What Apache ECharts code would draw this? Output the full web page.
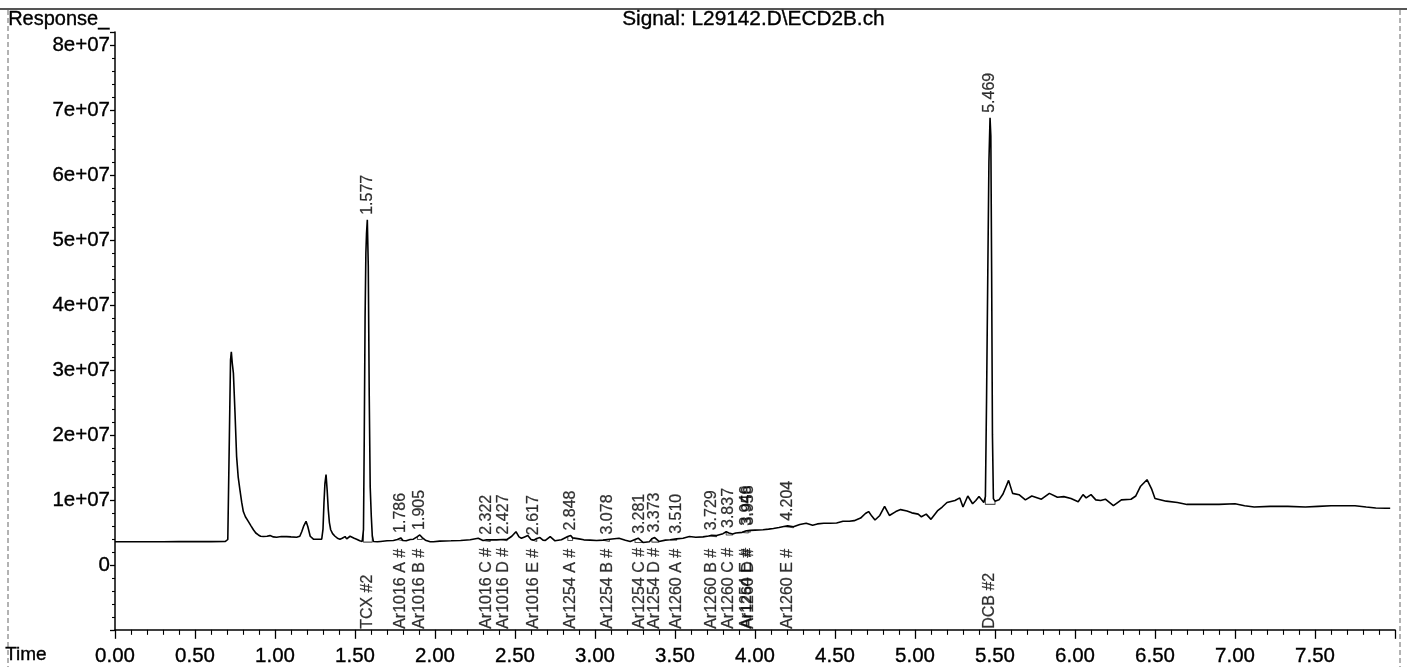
<!DOCTYPE html>
<html>
<head>
<meta charset="utf-8">
<script src="https://cdn.jsdelivr.net/npm/echarts@6/dist/echarts.min.js"></script>
<style>
  html, body { margin: 0; padding: 0; background: #fff; }
  #chart { width: 1407px; height: 667px; }
</style>
</head>
<body>
<div id="chart"></div>
<script>
// ECD detector trace: retention time (min) and response (counts)
const traceTime = [
  0.00, 0.10, 0.20, 0.30, 0.40, 0.50, 0.60, 0.69, 0.705, 0.715, 0.722, 0.727, 0.733, 0.74, 0.75, 0.76, 0.77, 0.781, 0.792, 0.802,
  0.815, 0.833, 0.85, 0.865, 0.88, 0.896, 0.91, 0.927, 0.95, 0.969, 0.99, 1.01, 1.04, 1.073, 1.10, 1.135, 1.155, 1.167, 1.18, 1.194,
  1.205, 1.22, 1.24, 1.27, 1.292, 1.30, 1.306, 1.312, 1.319, 1.326, 1.333, 1.34, 1.348, 1.36, 1.375, 1.39, 1.406, 1.42, 1.438, 1.448,
  1.458, 1.469, 1.479, 1.495, 1.51, 1.53, 1.545, 1.553, 1.558, 1.563, 1.568, 1.572, 1.577, 1.583, 1.589, 1.595, 1.602, 1.608, 1.615, 1.64,
  1.66, 1.70, 1.74, 1.765, 1.786, 1.80, 1.82, 1.845, 1.865, 1.89, 1.905, 1.92, 1.94, 1.97, 1.99, 2.03, 2.10, 2.16, 2.22, 2.27,
  2.30, 2.322, 2.345, 2.385, 2.427, 2.45, 2.48, 2.506, 2.525, 2.54, 2.56, 2.58, 2.60, 2.617, 2.636, 2.656, 2.675, 2.69, 2.72, 2.75,
  2.79, 2.83, 2.848, 2.86, 2.90, 2.93, 2.97, 3.01, 3.05, 3.078, 3.09, 3.15, 3.19, 3.22, 3.25, 3.27, 3.281, 3.30, 3.34, 3.355,
  3.373, 3.40, 3.44, 3.47, 3.51, 3.55, 3.59, 3.63, 3.675, 3.71, 3.729, 3.76, 3.80, 3.82, 3.837, 3.86, 3.88, 3.92, 3.946, 3.958,
  3.97, 4.00, 4.05, 4.085, 4.115, 4.15, 4.18, 4.204, 4.24, 4.28, 4.32, 4.36, 4.39, 4.43, 4.47, 4.51, 4.55, 4.59, 4.62, 4.66,
  4.69, 4.71, 4.73, 4.75, 4.78, 4.81, 4.84, 4.88, 4.91, 4.95, 4.98, 5.02, 5.04, 5.07, 5.10, 5.14, 5.17, 5.20, 5.25, 5.28,
  5.30, 5.33, 5.36, 5.38, 5.40, 5.43, 5.44, 5.447, 5.455, 5.462, 5.469, 5.474, 5.479, 5.484, 5.49, 5.50, 5.525, 5.55, 5.56, 5.585,
  5.61, 5.65, 5.69, 5.73, 5.79, 5.84, 5.89, 5.93, 5.975, 6.02, 6.05, 6.07, 6.10, 6.13, 6.16, 6.19, 6.24, 6.29, 6.35, 6.38,
  6.41, 6.45, 6.48, 6.50, 6.57, 6.64, 6.70, 6.79, 6.90, 7.00, 7.06, 7.12, 7.22, 7.33, 7.44, 7.52, 7.60, 7.68, 7.75, 7.82,
  7.88, 7.94, 7.97
];
const traceResp = [
  3.55e6, 3.55e6, 3.56e6, 3.56e6, 3.57e6, 3.58e6, 3.58e6, 3.60e6, 3.90e6, 2.00e7, 3.15e7, 3.28e7, 3.10e7, 2.95e7, 2.34e7, 1.67e7, 1.35e7, 1.15e7, 9.6e6, 8.2e6,
  7.4e6, 6.7e6, 6.0e6, 5.4e6, 4.9e6, 4.6e6, 4.4e6, 4.35e6, 4.4e6, 4.5e6, 4.3e6, 4.25e6, 4.35e6, 4.35e6, 4.3e6, 4.25e6, 4.4e6, 5.1e6, 6.0e6, 6.7e6,
  5.9e6, 4.4e6, 3.95e6, 3.95e6, 3.95e6, 5.5e6, 9.5e6, 1.25e7, 1.39e7, 1.15e7, 8.5e6, 6.5e6, 5.4e6, 4.8e6, 4.4e6, 4.1e6, 3.95e6, 4.1e6, 4.35e6, 4.0e6,
  4.2e6, 4.4e6, 4.5e6, 4.1e6, 3.95e6, 3.7e6, 3.6e6, 5.4e6, 2.0e7, 3.8e7, 4.8e7, 5.1e7, 5.31e7, 4.6e7, 2.6e7, 1.2e7, 7.4e6, 4.5e6, 3.6e6, 3.55e6,
  3.6e6, 3.7e6, 3.75e6, 3.9e6, 4.15e6, 3.75e6, 3.7e6, 3.9e6, 3.95e6, 4.35e6, 4.6e6, 4.2e6, 3.8e6, 3.55e6, 3.55e6, 3.65e6, 3.7e6, 3.75e6, 3.85e6, 4.1e6,
  3.75e6, 3.85e6, 3.85e6, 3.85e6, 3.9e6, 3.9e6, 4.4e6, 5.1e6, 4.3e6, 4.1e6, 4.3e6, 4.5e6, 3.9e6, 3.8e6, 4.05e6, 4.2e6, 3.8e6, 3.75e6, 4.35e6, 3.7e6,
  3.85e6, 4.35e6, 4.5e6, 4.15e6, 4.0e6, 3.85e6, 3.8e6, 3.75e6, 3.8e6, 3.9e6, 3.85e6, 4.1e6, 3.8e6, 3.6e6, 3.9e6, 4.1e6, 4.0e6, 3.45e6, 3.55e6, 4.0e6,
  4.2e6, 3.6e6, 3.8e6, 3.85e6, 4.0e6, 4.1e6, 4.35e6, 4.25e6, 4.3e6, 4.45e6, 4.55e6, 4.5e6, 4.8e6, 5.1e6, 4.9e6, 4.75e6, 4.9e6, 5.0e6, 5.25e6, 5.3e6,
  5.3e6, 5.35e6, 5.4e6, 5.5e6, 5.6e6, 5.75e6, 5.9e6, 6.0e6, 5.85e6, 6.2e6, 6.4e6, 6.1e6, 6.3e6, 6.4e6, 6.4e6, 6.45e6, 6.7e6, 6.7e6, 6.8e6, 7.2e6,
  7.9e6, 8.2e6, 7.5e6, 6.9e6, 7.6e6, 9.0e6, 7.6e6, 8.2e6, 8.5e6, 8.3e6, 8.0e6, 7.8e6, 7.4e6, 7.8e6, 7.0e6, 8.3e6, 8.9e6, 9.6e6, 9.9e6, 1.03e7,
  8.9e6, 1.06e7, 9.4e6, 9.9e6, 1.05e7, 9.6e6, 1.05e7, 2.5e7, 4.5e7, 6.2e7, 6.88e7, 6.6e7, 4.5e7, 2.0e7, 1.02e7, 9.8e6, 1.0e7, 1.09e7, 1.10e7, 1.30e7,
  1.10e7, 1.08e7, 1.0e7, 1.06e7, 1.01e7, 1.10e7, 1.04e7, 1.05e7, 1.02e7, 9.7e6, 1.08e7, 1.03e7, 1.08e7, 1.0e7, 9.9e6, 1.01e7, 9.1e6, 1.0e7, 1.01e7, 1.06e7,
  1.21e7, 1.31e7, 1.16e7, 1.02e7, 9.8e6, 9.6e6, 9.3e6, 9.3e6, 9.3e6, 9.4e6, 9.1e6, 8.9e6, 9.0e6, 9.0e6, 8.9e6, 9.0e6, 9.1e6, 9.1e6, 9.1e6, 8.9e6,
  8.75e6, 8.7e6, 8.7e6
];

// Identified peaks: retention time and compound label
const peakTimes = [1.577, 1.786, 1.905, 2.322, 2.427, 2.617, 2.848, 3.078, 3.281, 3.373, 3.510, 3.729, 3.837, 3.946, 3.958, 4.204, 5.469];
const peakNames = ['TCX #2', 'Ar1016 A #', 'Ar1016 B #', 'Ar1016 C #', 'Ar1016 D #', 'Ar1016 E #', 'Ar1254 A #', 'Ar1254 B #',
  'Ar1254 C #', 'Ar1254 D #', 'Ar1260 A #', 'Ar1260 B #', 'Ar1260 C #', 'Ar1254 E #', 'Ar1260 D #', 'Ar1260 E #', 'DCB #2'];

// Integration windows (start / end time) and baseline level under each peak
const intStart = [1.553, 1.765, 1.89, 2.30, 2.41, 2.60, 2.83, 3.05, 3.25, 3.355, 3.47, 3.71, 3.82, 3.92, 3.946, 4.18, 5.44];
const intEnd   = [1.608, 1.80, 1.92, 2.345, 2.45, 2.636, 2.86, 3.09, 3.30, 3.40, 3.51, 3.76, 3.86, 3.958, 3.97, 4.24, 5.50];
const intBase  = [3.5e6, 3.7e6, 3.9e6, 3.6e6, 3.7e6, 3.6e6, 3.75e6, 3.6e6, 3.45e6, 3.5e6, 3.8e6, 4.35e6, 4.6e6, 4.9e6, 5.0e6, 5.7e6, 9.3e6];

const Y_MIN = -1e7, Y_MAX = 8.2e7;
const FONT = '"Liberation Sans", Arial, Helvetica, sans-serif';

const trace = traceTime.map((t, i) => [t, traceResp[i]]);
const nearest = t => {
  let best = 0;
  traceTime.forEach((tt, i) => { if (Math.abs(tt - t) < Math.abs(traceTime[best] - t)) best = i; });
  return traceResp[best];
};
const apexPoints = peakTimes.map(t => [t, nearest(t)]);
const namePoints = peakTimes.map(t => [t, Y_MIN]);

// Integration marks: drop line, baseline, drop line; null breaks between peaks
const intMarks = [];
intStart.forEach((ts, i) => {
  const te = intEnd[i];
  intMarks.push([ts, nearest(ts)], [ts, intBase[i]], [te, intBase[i]], [te, nearest(te)], [null, null]);
});

// slightly heavier text, like a printed report
const ink = { color: '#000', textBorderColor: '#000', textBorderWidth: 0.35 };

const chart = echarts.init(document.getElementById('chart'), null, { renderer: 'canvas' });

chart.setOption({
  animation: false,
  backgroundColor: '#ffffff',
  textStyle: { fontFamily: FONT },
  grid: { left: 115, right: 12, top: 32, bottom: 37, containLabel: false },
  xAxis: {
    type: 'value',
    min: 0, max: 8, interval: 0.5,
    axisLine: { onZero: false, lineStyle: { color: '#000', width: 1.5 } },
    axisTick: { length: 9, lineStyle: { color: '#000', width: 1.3 } },
    minorTick: { show: true, splitNumber: 5, length: 5, lineStyle: { color: '#000', width: 1.1 } },
    splitLine: { show: false },
    axisLabel: Object.assign({
      fontSize: 20.5, margin: 16, fontFamily: FONT,
      formatter: v => (v >= 8 ? '' : v.toFixed(2))
    }, ink)
  },
  yAxis: {
    type: 'value',
    min: Y_MIN, max: Y_MAX, interval: 1e7,
    axisLine: { show: true, onZero: false, lineStyle: { color: '#000', width: 1.5 } },
    axisTick: { show: true, length: 5, lineStyle: { color: '#000', width: 1.3 } },
    minorTick: { show: true, splitNumber: 5, length: 3, lineStyle: { color: '#000', width: 1.1 } },
    splitLine: { show: false },
    axisLabel: Object.assign({
      fontSize: 20.5, margin: 5, fontFamily: FONT,
      formatter: v => (v < 0 ? '' : v === 0 ? '0' : (v / 1e7) + 'e+07')
    }, ink)
  },
  graphic: [
    { type: 'line', shape: { x1: 0, y1: 9, x2: 1407, y2: 9 }, style: { stroke: '#555', lineWidth: 2 } },
    { type: 'line', shape: { x1: 8, y1: 10, x2: 8, y2: 667 }, style: { stroke: '#666', lineWidth: 1, lineDash: [5, 3] } },
    { type: 'line', shape: { x1: 1400, y1: 10, x2: 1400, y2: 667 }, style: { stroke: '#666', lineWidth: 1, lineDash: [5, 3] } },
    { type: 'text', left: 8, top: 9, style: { text: 'Response_', font: '20px ' + FONT, fill: '#000', stroke: '#000', lineWidth: 0.35 } },
    { type: 'text', left: 622, top: 9, style: { text: 'Signal: L29142.D\\ECD2B.ch', font: '20.8px ' + FONT, fill: '#000', stroke: '#000', lineWidth: 0.35 } },
    { type: 'text', left: 5, top: 645, style: { text: 'Time', font: '19px ' + FONT, fill: '#000', stroke: '#000', lineWidth: 0.35 } }
  ],
  series: [
    {
      name: 'ECD2B',
      type: 'line',
      data: trace,
      showSymbol: false,
      lineStyle: { color: '#000', width: 1.6 },
      silent: true,
      z: 3
    },
    {
      name: 'integration',
      type: 'line',
      data: intMarks,
      connectNulls: false,
      showSymbol: false,
      lineStyle: { color: '#555', width: 1.1 },
      silent: true,
      z: 2
    },
    {
      name: 'retention times',
      type: 'scatter',
      data: apexPoints,
      symbolSize: 0,
      silent: true,
      label: Object.assign({
        show: true, position: 'top', distance: 5, rotate: 90,
        align: 'left', verticalAlign: 'middle',
        fontSize: 16, fontFamily: FONT,
        formatter: p => p.value[0].toFixed(3)
      }, ink, { textBorderWidth: 0.25 })
    },
    {
      name: 'compounds',
      type: 'scatter',
      data: namePoints,
      symbolSize: 0,
      silent: true,
      label: Object.assign({
        show: true, position: 'top', distance: 1, rotate: 90,
        align: 'left', verticalAlign: 'middle',
        fontSize: 16, fontFamily: FONT,
        formatter: p => peakNames[p.dataIndex]
      }, ink, { textBorderWidth: 0.25 })
    }
  ]
});
</script>
</body>
</html>
